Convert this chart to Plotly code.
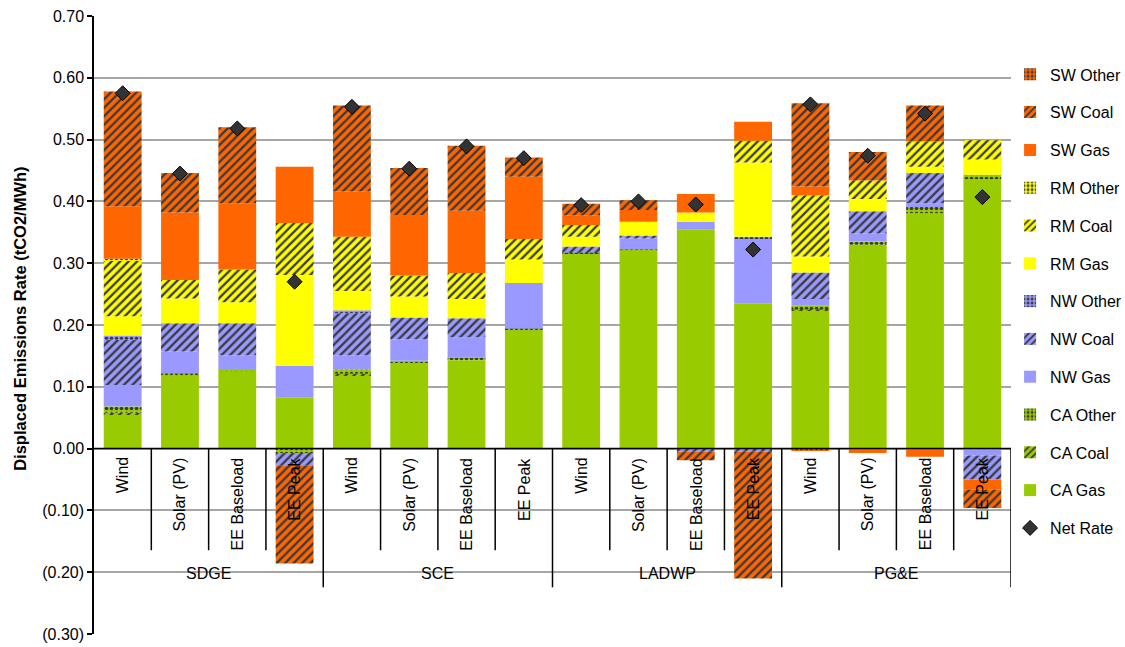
import plotly.graph_objects as go

groups = ["SDGE", "SCE", "LADWP", "PG&E"]
subcats = ["Wind", "Solar (PV)", "EE Baseload", "EE Peak"]

ca_gas = [0.055, 0.119, 0.124, 0.083, 0.118, 0.139, 0.142, 0.193, 0.315, 0.321, 0.355, 0.235, 0.223, 0.330, 0.381, 0.436]
ca_coal = [0.003, 0.0, 0.0, 0.0, 0.003, 0.0, 0.0, 0.0, 0.0, 0.0, 0.0, 0.0, 0.002, 0.0, 0.0, 0.0]
ca_other = [0.010, 0.003, 0.003, -0.007, 0.007, 0.003, 0.005, 0.001, 0.002, 0.001, 0.0, 0.0, 0.006, 0.005, 0.010, 0.007]
nw_gas = [0.035, 0.035, 0.024, 0.051, 0.023, 0.035, 0.033, 0.074, 0.0, 0.018, 0.012, 0.104, 0.011, 0.013, 0.006, -0.011]
nw_coal = [0.073, 0.046, 0.052, -0.020, 0.068, 0.035, 0.031, 0.0, 0.010, 0.005, -0.005, -0.005, 0.043, 0.036, 0.049, -0.039]
nw_other = [0.007, 0.0, 0.0, 0.0, 0.005, 0.0, 0.0, 0.0, 0.0, 0.0, 0.0, 0.004, 0.0, 0.0, 0.0, 0.0]
rm_gas = [0.031, 0.040, 0.034, 0.147, 0.031, 0.034, 0.031, 0.038, 0.016, 0.022, 0.015, 0.120, 0.026, 0.020, 0.010, 0.025]
rm_coal = [0.091, 0.030, 0.053, 0.084, 0.088, 0.034, 0.042, 0.033, 0.019, 0.0, 0.0, 0.035, 0.099, 0.030, 0.041, 0.031]
rm_other = [0.002, 0.0, 0.0, 0.0, 0.0, 0.0, 0.0, 0.0, 0.0, 0.0, 0.0, 0.0, 0.0, 0.0, 0.0, 0.0]
sw_gas = [0.085, 0.109, 0.107, 0.091, 0.073, 0.098, 0.101, 0.101, 0.015, 0.019, 0.030, 0.031, 0.014, -0.007, -0.013, -0.016]
sw_coal = [0.186, 0.064, 0.123, -0.159, 0.139, 0.076, 0.105, 0.031, 0.019, 0.016, -0.014, -0.205, 0.135, 0.046, 0.058, -0.030]
sw_other = [0.0, 0.0, 0.0, 0.0, 0.0, 0.0, 0.0, 0.0, 0.0, 0.0, 0.0, 0.0, -0.004, 0.0, 0.0, 0.0]
net_rate = [0.575, 0.445, 0.518, 0.270, 0.553, 0.453, 0.489, 0.470, 0.394, 0.400, 0.395, 0.322, 0.557, 0.474, 0.542, 0.407]

tick_vals = [-0.3, -0.2, -0.1, 0.0, 0.1, 0.2, 0.3, 0.4, 0.5, 0.6, 0.7]
tick_text = ["(0.30)", "(0.20)", "(0.10)", "0.00", "0.10", "0.20", "0.30", "0.40", "0.50", "0.60", "0.70"]

FONT = "Liberation Sans, Arial, sans-serif"
n = len(groups) * len(subcats)
xs = list(range(n))

series = [
    ("CA Gas", ca_gas, "#99CC00", ""),
    ("CA Coal", ca_coal, "#99CC00", "/"),
    ("CA Other", ca_other, "#99CC00", "."),
    ("NW Gas", nw_gas, "#9999FF", ""),
    ("NW Coal", nw_coal, "#9999FF", "/"),
    ("NW Other", nw_other, "#9999FF", "."),
    ("RM Gas", rm_gas, "#FFFF00", ""),
    ("RM Coal", rm_coal, "#FFFF00", "/"),
    ("RM Other", rm_other, "#FFFF00", "."),
    ("SW Gas", sw_gas, "#FF6600", ""),
    ("SW Coal", sw_coal, "#FF6600", "/"),
    ("SW Other", sw_other, "#FF6600", "."),
]

fig = go.Figure()
for k, (name, vals, color, shape) in enumerate(series):
    pattern = dict(shape=shape, fgcolor="#3a3a3a", bgcolor=color,
                   size=6 if shape == "/" else 5, solidity=0.38 if shape == "/" else 0.4,
                   fillmode="replace")
    fig.add_trace(go.Bar(
        x=xs, y=vals, name=name, width=0.66,
        marker=dict(color=color, line=dict(width=0), pattern=pattern),
        legendgroup=name, legendrank=len(series) - k,
    ))

fig.add_trace(go.Scatter(
    x=xs, y=net_rate, mode="markers", name="Net Rate",
    marker=dict(symbol="diamond", size=11.5, color="#333333", line=dict(color="black", width=1)),
    legendgroup="Net Rate", legendrank=20,
))

shapes = []
shapes.append(dict(type="line", xref="x", yref="y", x0=-0.5, x1=n - 0.5, y0=0, y1=0,
                   line=dict(color="black", width=1.5), layer="above"))
sub_bottom = -0.1645
grp_bottom = -0.2245
for i in range(n):
    xb = i + 0.5
    is_group_end = (i + 1) % len(subcats) == 0
    shapes.append(dict(type="line", xref="x", yref="y", x0=xb, x1=xb, y0=0,
                       y1=grp_bottom if is_group_end else sub_bottom,
                       line=dict(color="black", width=1.5), layer="above"))

annotations = []
for i in range(n):
    annotations.append(dict(x=i, y=0, xref="x", yref="y", text=subcats[i % len(subcats)],
                            textangle=-90, showarrow=False, xanchor="center", yanchor="top",
                            yshift=-7, font=dict(family=FONT, size=16, color="black")))
for g, gname in enumerate(groups):
    annotations.append(dict(x=g * len(subcats) + 1.5, y=-0.2018, xref="x", yref="y", text=gname,
                            showarrow=False, xanchor="center", yanchor="middle",
                            font=dict(family=FONT, size=16, color="black")))
annotations.append(dict(x=-0.0807, y=0.51, xref="paper", yref="paper",
                        text="Displaced Emissions Rate (tCO2/MWh)", textangle=-90,
                        showarrow=False, xanchor="center", yanchor="middle",
                        font=dict(family=FONT, size=16.5, color="black", weight="bold")))

fig.update_layout(
    width=1125, height=647,
    margin=dict(l=94, r=114, t=16, b=13, autoexpand=False),
    plot_bgcolor="white", paper_bgcolor="white",
    barmode="relative", bargap=0.34,
    showlegend=True,
    legend=dict(x=0.999, y=0.933, xanchor="left", yanchor="top",
                font=dict(family=FONT, size=16, color="black"),
                traceorder="grouped", tracegroupgap=14, itemwidth=30,
                bgcolor="rgba(0,0,0,0)"),
    xaxis=dict(range=[-0.5, n - 0.5], showgrid=False, zeroline=False,
               showticklabels=False, showline=False, ticks=""),
    yaxis=dict(range=[-0.3, 0.7], tickvals=tick_vals, ticktext=tick_text,
               showgrid=True, gridcolor="#a6a6a6", gridwidth=1.5,
               zeroline=False, showline=True, linecolor="black", linewidth=1.5,
               ticks="outside", ticklen=5, tickcolor="black", tickwidth=1.5,
               tickfont=dict(family=FONT, size=16, color="black")),
    shapes=shapes,
    annotations=annotations,
    font=dict(family=FONT),
)

fig.write_html("out.html")
